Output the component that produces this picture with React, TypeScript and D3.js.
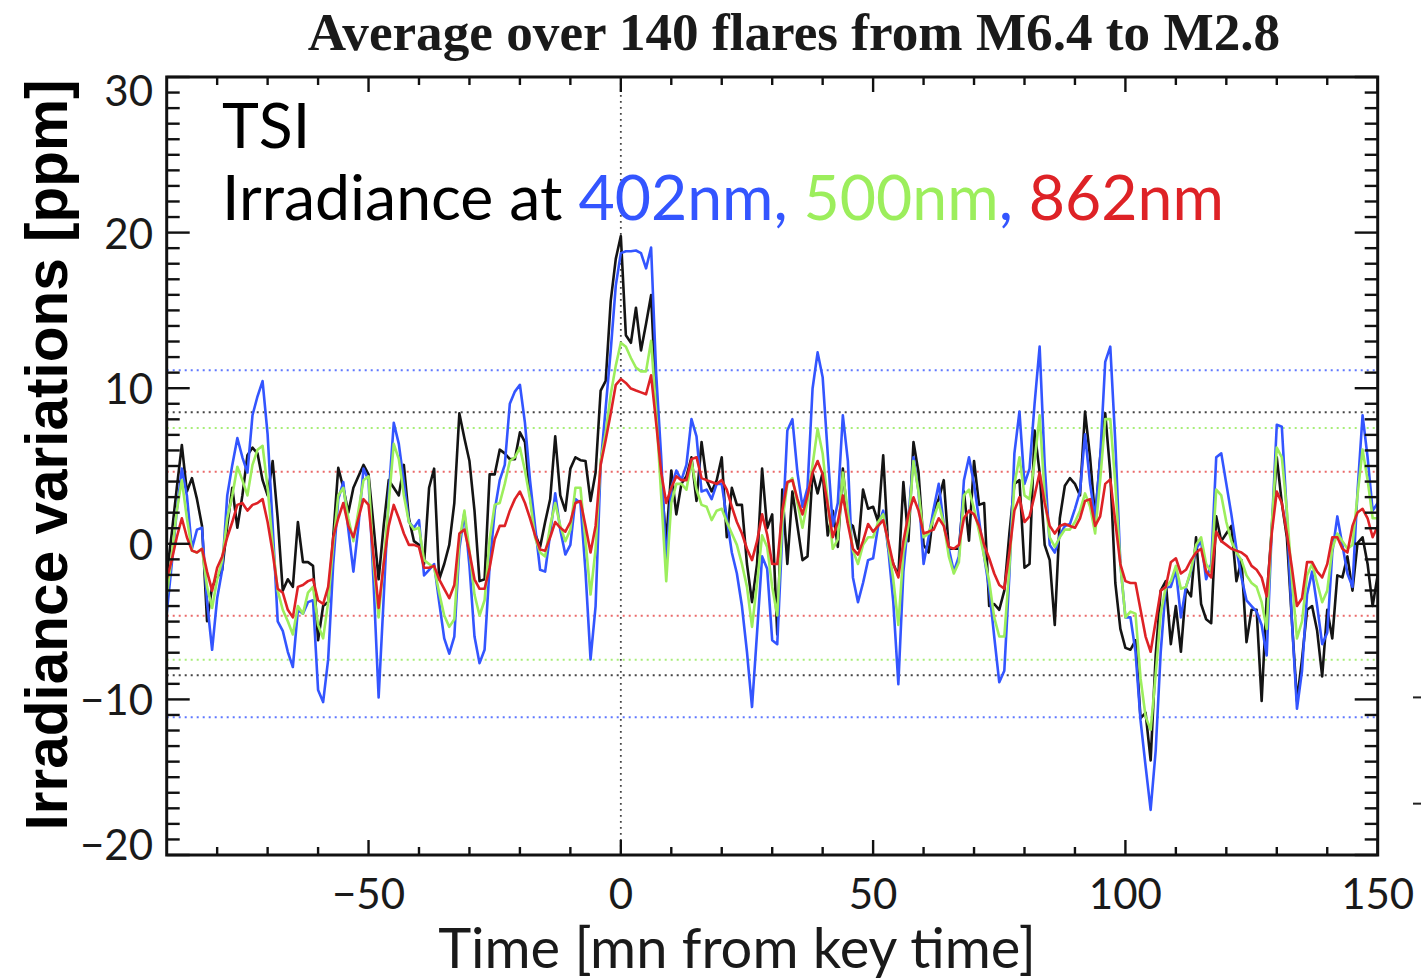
import React from "react";
import * as d3 from "d3";

// ---------- DATA (1-minute steps, t = -90 .. 150) ----------
const T_START = -90;
const T_END = 150;

const tsi = [
  -2.03, 0.66, 3.6, 6.35, 3.36, 4.22, 2.87, 1.15, -4.98, -2.77, -2.16, -1.67, 1.15, 3.6, 1.03, 3.11, 5.69, 6.18, 5.81, 4.09, 3.11, 5.32, 1.64, -3.01, -2.28, -2.77, 1.4, -1.18, -1.18, -1.42, -6.2, -4.0, -3.75, 0.42, 4.88, 3.6, 2.01, 3.6, 4.34, 5.07, 4.46,
  1.15, -2.28, 1.15, 4.09, 3.6, 3.11, 5.07, 1.64, 0.17, -0.07, -1.3, 3.6, 4.83, -2.28, -1.3, -0.07, 2.62, 8.38, 6.79, 5.32, 2.13, -2.4, -2.28, 4.46, 4.46, 6.05, 5.81, 5.44, 5.44, 7.16, 6.54, 3.11, 0.66, -0.2, 1.4, 2.87, 6.91, 3.11, 2.13, 4.83,
  5.56, 5.37, 5.32, 2.75, 4.58, 9.85, 10.47, 15.61, 18.31, 19.78, 13.4, 12.92, 15.17, 12.43, 14.14, 15.98, 9.0, 4.09, 0.17, 4.71, 1.89, 3.85, 4.34, 5.56, 2.75, 6.54, 4.09, 3.36, 4.09, 5.56, 0.42, 3.6, 2.5, 2.5, -1.3, -3.75, -1.3, 4.83, 1.0,
  1.89, -5.83, 3.48, -1.3, 3.36, 1.15, -1.05, -0.81, 4.58, 3.24, 4.58, 0.54, 2.13, -0.2, 4.83, 1.4, 1.15, -0.32, 3.48, 2.25, 2.38, 1.4, 5.69, -0.32, -1.3, -2.03, 3.97, 0.17, 6.54, 4.58, -0.07, -0.56, 2.13, 2.87, 4.09, -0.32, -0.32, -0.32, 3.36, 0.2,
  5.32, 2.5, 2.62, -4.0, -3.87, -4.24, -3.01, 0.66, 3.85, 4.09, -1.54, -1.3, 7.28, 4.58, -0.07, -1.05, -5.22, 1.64, 3.73, 4.22, 3.85, 3.11, 8.5, 5.56, 1.64, 5.56, 8.38, 4.58, -2.52, -5.47, -6.69, -6.81, -6.2, -11.2, -10.86, -13.92, -7.18, -3.01, -2.4,
  -6.45, -4.0, -6.94, -2.89, -3.38, 0.42, -3.87, -4.85, -5.1, 1.76, 0.17, 0.66, 1.15, -2.4, -1.05, -6.32, -4.24, -4.24, -10.1, -3.5, 0.91, 5.56, 2.62, 0.42, -4.98, -10.1, -7.43, -4.24, -4.0, -5.59, -8.53, -4.24, -6.08, -2.03, -2.16, -0.81, -3.01, 0.05, 0.42, -1.3, -4.0, -2.0,
];

const nm402 = [
  -4.49, -1.3, 2.13, 4.83, 3.11, -0.32, 0.91, 1.03, -3.75, -6.81, -3.5, -1.67, 3.11, 5.07, 6.79, 5.56, 4.58, 8.26, 9.48, 10.46, 7.03, 1.15, -4.98, -5.59, -6.94, -7.92, -4.24, -4.49, -3.75, -3.63, -9.39, -10.17, -7.43, -1.3, 2.87, 3.97, 0.91, -1.79, 1.15, 4.83, 4.09,
  -2.52, -9.88, -3.5, 3.11, 7.77, 6.42, 3.97, 1.4, 1.03, 1.52, -2.03, -1.67, -1.3, -3.75, -6.08, -7.06, -5.96, -0.32, 2.01, -1.42, -5.96, -7.67, -6.81, -1.42, 2.13, 4.09, 5.07, 9.0, 9.78, 10.22, 7.77, 4.09, 1.15, -1.67, -1.79, 0.66, 3.24, 0.91, -0.69, -0.07,
  2.87, 2.62, -1.79, -7.43, -4.0, 5.07, 8.75, 12.43, 16.59, 18.68, 18.8, 18.8, 18.85, 18.68, 17.7, 19.04, 10.96, 5.56, -1.3, 3.6, 4.71, 4.09, 5.07, 8.01, 6.91, 3.36, 3.48, 2.87, 3.85, 3.85, 1.64, -0.56, -1.91, -4.0, -6.94, -10.49, -5.71, -0.81, -1.6,
  -6.2, -6.45, 0.66, 7.28, 8.01, 4.58, 2.38, 3.6, 9.98, 12.3, 10.71, 5.81, 1.15, 2.62, 8.26, 5.32, -2.16, -3.75, -2.52, -1.05, -0.93, 1.15, 2.13, -0.32, -3.75, -9.02, -1.79, 1.64, 5.56, 3.36, -1.3, 0.42, 2.25, 3.85, 1.27, -0.32, -1.79, -0.81, 4.09, 5.56,
  3.85, 1.52, -0.81, -2.89, -5.96, -8.9, -8.16, -2.03, 5.81, 8.5, 3.85, 4.83, 9.0, 12.67, 5.07, -0.07, -0.56, 0.54, 1.15, 1.27, 2.25, 3.36, 7.03, 3.85, 1.64, 5.56, 11.69, 12.67, 6.54, -1.3, -4.73, -4.73, -6.94, -11.35, -14.29, -17.1, -13.3, -6.94, -2.77,
  -2.77, -1.67, -4.73, -2.77, -1.79, -0.32, 0.17, -2.28, -1.3, 5.56, 5.81, 3.85, 1.89, -0.32, -2.16, -3.63, -4.0, -4.36, -5.22, -7.18, 0.91, 7.65, 7.52, 1.89, -4.98, -10.6, -8.16, -3.26, -1.79, -4.0, -6.45, -5.71, -0.56, 1.76, -0.07, -1.91, -2.77, 3.36, 8.26, 5.56, 2.13, 2.62,
];

const nm500 = [
  -3.38, -0.81, 2.13, 4.09, 1.64, -0.44, -0.56, -0.32, -2.77, -4.12, -2.28, -1.05, 1.64, 3.11, 4.95, 4.09, 3.11, 5.07, 6.05, 6.3, 3.6, -0.07, -3.01, -4.24, -4.98, -5.83, -4.0, -4.49, -3.14, -2.77, -5.22, -6.08, -3.75, -0.07, 3.11, 3.6, 1.64, 0.17, 2.13, 4.09, 4.34,
  -1.3, -4.73, -1.18, 2.62, 6.42, 5.44, 3.11, 1.4, 0.91, 1.03, -1.05, -1.3, -1.54, -3.14, -4.61, -5.34, -4.85, 0.17, 2.13, -0.44, -3.26, -4.61, -3.63, 0.29, 2.5, 2.62, 3.85, 5.32, 5.56, 6.18, 4.71, 2.87, 0.42, -0.56, -0.81, 1.15, 2.62, 1.15, 0.17, 0.91,
  3.6, 3.6, 0.17, -3.26, -0.32, 5.32, 7.16, 9.61, 11.45, 12.92, 12.67, 11.94, 11.32, 11.08, 11.08, 13.04, 8.5, 3.11, -2.4, 2.62, 3.85, 3.85, 3.48, 5.32, 3.48, 2.5, 2.38, 1.52, 2.13, 2.25, 1.4, 0.66, -0.07, -1.3, -2.77, -5.34, -2.52, 0.54, -0.2,
  -2.77, -4.61, 1.4, 3.85, 4.22, 2.62, 1.03, 2.75, 5.07, 7.4, 5.81, 2.75, -0.32, 0.29, 4.58, 2.01, -0.44, -1.3, -0.07, 0.42, 0.42, 1.4, 1.89, -0.07, -2.28, -5.22, -0.56, 1.15, 5.32, 3.36, 0.42, 0.66, 1.64, 2.62, 1.27, -0.81, -1.91, -1.18, 3.11, 3.48,
  2.25, 0.78, -0.81, -2.4, -4.73, -5.96, -5.96, -1.54, 3.85, 5.56, 3.11, 2.87, 5.32, 8.26, 3.11, 0.42, -0.2, 0.42, 0.91, 0.91, 1.4, 2.13, 3.24, 2.38, 0.66, 4.09, 8.01, 8.01, 3.85, -1.3, -4.73, -4.36, -4.49, -8.65, -11.1, -11.96, -8.41, -4.49, -2.77,
  -2.4, -1.42, -2.89, -2.77, -1.67, -0.07, 0.42, -1.3, -1.79, 3.48, 3.11, 1.4, 0.17, -0.56, -1.05, -2.03, -2.52, -2.77, -3.75, -5.47, 1.15, 6.18, 5.56, 2.13, -2.28, -6.08, -4.98, -2.03, -1.3, -2.52, -3.75, -3.01, -0.32, 0.66, 0.17, -0.32, -0.07, 3.11, 6.05, 4.09, 1.64, 1.64,
];

const nm862 = [
  -2.28, -1.05, 0.42, 1.64, 0.42, -0.44, -0.56, -0.32, -1.79, -3.01, -1.54, -0.81, 0.42, 1.4, 2.5, 2.62, 2.13, 2.5, 2.62, 2.87, 1.4, -0.56, -2.89, -3.14, -4.24, -4.73, -2.77, -2.65, -2.4, -2.28, -3.63, -3.87, -2.77, 0.42, 1.64, 2.62, 1.15, 0.42, 1.64, 2.87, 2.5,
  -0.81, -4.12, -1.3, 1.15, 2.5, 1.64, 0.66, -0.07, -0.07, -0.2, -1.54, -1.54, -1.42, -2.28, -2.89, -3.5, -2.65, 0.66, 0.91, -0.56, -2.28, -2.89, -2.89, -1.54, 0.29, 1.15, 1.15, 2.13, 2.87, 3.36, 2.62, 1.64, 0.54, -0.37, -0.44, 0.42, 1.4, 1.03, 0.78, 1.4,
  2.62, 2.75, 1.15, -0.56, 1.15, 5.07, 6.67, 8.38, 10.22, 10.59, 10.34, 9.98, 9.85, 9.73, 9.61, 10.83, 7.77, 4.58, 2.62, 3.6, 4.34, 4.09, 4.09, 5.44, 5.56, 4.22, 4.09, 3.97, 3.85, 4.09, 3.48, 2.38, 1.4, 0.66, -0.32, -1.05, 0.17, 1.89, 0.6,
  -1.3, -1.3, 2.13, 3.97, 4.09, 2.87, 1.89, 3.11, 4.58, 5.32, 4.46, 2.5, 0.42, 1.4, 3.11, 1.27, -0.32, -0.69, 0.17, 1.27, 0.78, 1.15, 1.52, 0.17, -1.3, -2.16, 0.17, 1.89, 2.99, 2.13, 0.66, 0.78, 0.91, 1.64, 1.15, -0.2, -0.32, -0.07, 1.64, 2.13,
  1.89, 1.15, -0.07, -0.93, -1.91, -2.65, -2.89, -0.56, 2.13, 2.99, 1.4, 1.76, 3.11, 4.58, 2.62, 1.15, 0.66, 1.15, 1.27, 1.15, 1.03, 1.64, 2.75, 2.87, 1.15, 1.76, 3.85, 4.14, 1.4, -1.3, -2.4, -2.52, -2.52, -4.24, -5.96, -6.94, -4.98, -3.01, -2.77,
  -1.18, -0.93, -1.91, -1.67, -1.05, -0.56, -0.32, -1.79, -2.16, 0.78, 0.17, -0.07, -0.32, -0.44, -0.56, -0.81, -1.42, -1.67, -2.16, -3.38, 0.66, 3.36, 2.62, 0.66, -1.54, -4.0, -3.5, -1.18, -1.18, -1.79, -2.16, -1.3, 0.42, 0.42, -0.32, -0.56, 1.15, 2.01, 2.25, 1.64, 0.42, 1.15,
];

// standard-deviation levels drawn as dotted lines (ppm)
const sigma402 = 11.15;
const sigmaTsi = 8.45;
const sigma500 = 7.45;
const sigma862 = 4.63;

const xMajorTicks = [-50, 0, 50, 100, 150];
const yMajorTicks = [-20, -10, 0, 10, 20, 30];

const BLUE = "#3355ff";
const GREEN = "#9cee5c";
const RED = "#de2226";
const BLACK = "#141414";

export default function App() {
  const W = 1427;
  const H = 978;
  const left = 166.7, right = 1377.7, top = 77, bottom = 855;
  const x = d3.scaleLinear().domain([T_START, T_END]).range([left, right]);
  const y = d3.scaleLinear().domain([-20, 30]).range([bottom, top]);

  const line = d3
    .line<number>()
    .x((_, i) => x(T_START + i))
    .y((d) => y(d));

  const xMinor = d3.range(-80, 150, 10).filter((v) => !xMajorTicks.includes(v));
  const yMinor = d3.range(-19, 30, 1).filter((v) => v % 10 !== 0);

  const sig = [
    { v: sigma402, c: "#5f78ff" },
    { v: sigmaTsi, c: "#444444" },
    { v: sigma500, c: "#a8ee78" },
    { v: sigma862, c: "#ea6a6a" },
  ];

  const series = [
    { d: tsi, c: BLACK },
    { d: nm402, c: BLUE },
    { d: nm500, c: GREEN },
    { d: nm862, c: RED },
  ];

  const tickFont = "Lato, 'Open Sans', sans-serif";
  const yLabelOffset = (v: number) => (v === 30 ? 13 : v === -20 ? -11 : 0);

  return (
    <svg
      width={W}
      height={H}
      viewBox={`0 0 ${W} ${H}`}
      style={{ position: "absolute", left: 0, top: 0, background: "#fff" }}
    >
      <rect x={0} y={0} width={W} height={H} fill="#fff" />
      <defs>
        <clipPath id="plotclip">
          <rect x={left} y={top} width={right - left} height={bottom - top} />
        </clipPath>
      </defs>

      {/* title */}
      <text
        x={794}
        y={50}
        textAnchor="middle"
        fontFamily="'Liberation Serif', 'Times New Roman', serif"
        fontWeight="bold"
        fontSize={53.2}
        fill="#1a1a1a"
      >
        Average over 140 flares from M6.4 to M2.8
      </text>

      {/* sigma dotted lines */}
      <g clipPath="url(#plotclip)">
        {sig.map((s, i) =>
          [s.v, -s.v].map((v, j) => (
            <line
              key={`s${i}${j}`}
              x1={left}
              x2={right}
              y1={y(v)}
              y2={y(v)}
              stroke={s.c}
              strokeWidth={2}
              strokeDasharray="2 4"
            />
          ))
        )}
        <line
          x1={x(0)}
          x2={x(0)}
          y1={top}
          y2={bottom}
          stroke="#444"
          strokeWidth={1.8}
          strokeDasharray="1.8 4.2"
        />
      </g>

      {/* data lines */}
      <g clipPath="url(#plotclip)" fill="none" strokeLinejoin="round">
        {series.map((s, i) => (
          <path key={i} d={line(s.d) || ""} stroke={s.c} strokeWidth={2.6} />
        ))}
      </g>

      {/* frame */}
      <rect
        x={left}
        y={top}
        width={right - left}
        height={bottom - top}
        fill="none"
        stroke="#111"
        strokeWidth={3}
      />

      {/* ticks */}
      <g stroke="#111" strokeWidth={2.4}>
        {xMajorTicks.map((v) => (
          <g key={`xm${v}`}>
            <line x1={x(v)} x2={x(v)} y1={bottom} y2={bottom - 15} />
            <line x1={x(v)} x2={x(v)} y1={top} y2={top + 15} />
          </g>
        ))}
        {xMinor.map((v) => (
          <g key={`xn${v}`}>
            <line x1={x(v)} x2={x(v)} y1={bottom} y2={bottom - 8} />
            <line x1={x(v)} x2={x(v)} y1={top} y2={top + 8} />
          </g>
        ))}
        {yMajorTicks.map((v) => (
          <g key={`ym${v}`}>
            <line x1={left} x2={left + 23} y1={y(v)} y2={y(v)} />
            <line x1={right} x2={right - 23} y1={y(v)} y2={y(v)} />
          </g>
        ))}
        {yMinor.map((v) => (
          <g key={`yn${v}`}>
            <line x1={left} x2={left + 13} y1={y(v)} y2={y(v)} />
            <line x1={right} x2={right - 13} y1={y(v)} y2={y(v)} />
          </g>
        ))}
      </g>

      {/* tick labels */}
      <g fontFamily={tickFont} fontSize={42} fill="#1a1a1a">
        {yMajorTicks.map((v) => (
          <text
            key={`yl${v}`}
            x={153}
            y={y(v) + yLabelOffset(v)}
            textAnchor="end"
            dominantBaseline="central"
          >
            {v < 0 ? `\u2212${Math.abs(v)}` : `${v}`}
          </text>
        ))}
        {xMajorTicks.map((v) => (
          <text
            key={`xl${v}`}
            x={x(v)}
            y={893}
            textAnchor="middle"
            dominantBaseline="central"
          >
            {v < 0 ? `\u2212${Math.abs(v)}` : `${v}`}
          </text>
        ))}
      </g>

      {/* axis titles */}
      <text
        x={737}
        y={968}
        textAnchor="middle"
        fontFamily={tickFont}
        fontSize={56}
        fill="#1a1a1a"
      >
        Time [mn from key time]
      </text>
      <text
        transform="translate(67,455) rotate(-90)"
        textAnchor="middle"
        fontFamily="'Liberation Sans', Arial, Helvetica, sans-serif"
        fontWeight="bold"
        fontSize={58.5}
        fill="#000"
      >
        Irradiance variations [ppm]
      </text>

      {/* annotation */}
      <g fontFamily="Lato, 'Open Sans', sans-serif" fontSize={62.5}>
        <text x={222} y={148} fill="#000">
          TSI
        </text>
        <text x={222} y={220} fill="#000">
          Irradiance at <tspan fill={BLUE}>402nm, </tspan>
          <tspan fill={GREEN}>500nm</tspan>
          <tspan fill={BLUE}>, </tspan>
          <tspan fill={RED}>862nm</tspan>
        </text>
      </g>

      {/* small marks at the right margin */}
      <g stroke="#222" strokeWidth={2}>
        <line x1={1413} x2={1421} y1={y(-10) - 2} y2={y(-10) - 2} />
        <line x1={1413} x2={1421} y1={y(-16.7)} y2={y(-16.7)} />
      </g>
    </svg>
  );
}
